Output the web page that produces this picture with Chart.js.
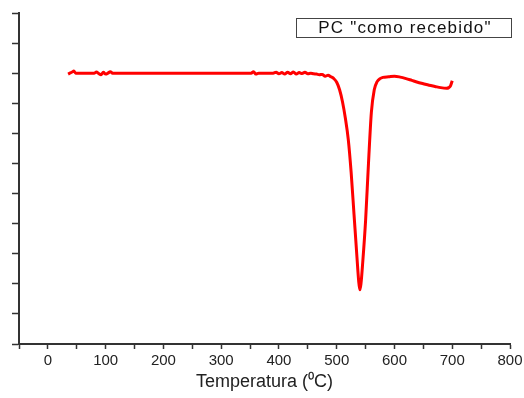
<!DOCTYPE html>
<html>
<head>
<meta charset="utf-8">
<script src="https://cdn.jsdelivr.net/npm/chart.js@4"></script>
<style>
  body { margin: 0; background: #fff; }
  canvas { display: block; }
</style>
</head>
<body>
<canvas id="dtgChart" width="524" height="398"></canvas>
<script>
// DTG curve, PC "como recebido"
var legendLabel = 'PC "como recebido"';
var xTitle = 'Temperatura (\u2070C)';

var temperature = [35, 38, 42, 45, 48, 55, 70, 80, 84, 88, 92, 96, 100, 104, 108, 112, 116, 120,
    150, 200, 250, 300, 340, 352, 356, 360, 365, 380, 390, 395, 400, 405, 410, 415, 420, 425,
    430, 435, 440, 445, 450, 455, 460, 465, 470, 475, 480, 485, 490, 495, 500, 505, 510, 515,
    520, 525, 530, 535, 538, 540, 542, 545, 550, 555, 560, 565, 570, 575, 580, 590, 600, 610,
    620, 630, 640, 650, 660, 670, 680, 690, 694, 697, 700];

var signal = [8.97, 9.0, 9.04, 9.07, 9.0, 9.0, 9.0, 9.0, 9.04, 8.99, 8.95, 9.03, 8.97, 9.0, 9.05, 9.0, 9.0, 9.0,
    9.0, 9.0, 9.0, 9.0, 9.0, 9.0, 9.05, 8.97, 9.0, 9.0, 9.0, 9.03, 8.98, 9.02, 8.97, 9.03, 8.98, 9.04,
    8.97, 9.02, 8.99, 9.03, 8.98, 9.0, 8.98, 8.97, 8.95, 8.96, 8.9, 8.93, 8.88, 8.82, 8.7, 8.45, 8.05, 7.5,
    6.8, 5.7, 4.3, 2.9, 2.1, 1.8, 2.0, 2.7, 4.1, 6.0, 7.7, 8.45, 8.72, 8.82, 8.86, 8.88, 8.9, 8.87,
    8.82, 8.76, 8.7, 8.65, 8.6, 8.56, 8.52, 8.5, 8.52, 8.58, 8.75];

var xMin = -50, xMax = 800, xStep = 50;
var yMin = 0, yMax = 11, yStep = 1;

let points = [];
temperature.forEach(function (t, i) {
    points.push({ x: t, y: signal[i] });
});

// Boxed legend label in the top right corner
var boxLegend = {
    id: 'boxLegend',
    afterDraw: function (chart) {
        let ctx = chart.ctx;
        ctx.save();
        ctx.strokeStyle = '#444';
        ctx.lineWidth = 1;
        ctx.strokeRect(296.5, 18.5, 215, 19);
        ctx.fillStyle = '#111';
        ctx.font = '17px "Liberation Sans", Arial, sans-serif';
        ctx.letterSpacing = '1.2px';
        ctx.textAlign = 'center';
        ctx.textBaseline = 'middle';
        ctx.fillText(legendLabel, 405, 28.5);
        ctx.restore();
    }
};

let ctx = document.getElementById('dtgChart').getContext('2d');
new Chart(ctx, {
    type: 'line',
    data: {
        datasets: [{
            label: legendLabel,
            data: points,
            borderColor: '#f00',
            borderWidth: 3,
            pointRadius: 0,
            fill: false,
            cubicInterpolationMode: 'monotone'
        }]
    },
    options: {
        responsive: false,
        animation: false,
        devicePixelRatio: 1,
        layout: { padding: { top: 13, right: 14, left: 0, bottom: 0 } },
        plugins: {
            legend: { display: false },
            tooltip: { enabled: false }
        },
        scales: {
            x: {
                type: 'linear',
                min: xMin,
                max: xMax,
                border: { color: '#333', width: 2 },
                grid: { drawOnChartArea: false, tickLength: 5, color: '#333', tickWidth: 1.5 },
                ticks: {
                    stepSize: xStep,
                    autoSkip: false,
                    maxRotation: 0,
                    padding: 3,
                    color: '#222',
                    font: { size: 15, family: '"Liberation Sans", Arial, sans-serif' },
                    callback: function (v) { return (v % 100 === 0) ? v : ''; }
                },
                title: {
                    display: true,
                    text: xTitle,
                    color: '#222',
                    font: { size: 18, family: '"Liberation Sans", Arial, sans-serif' },
                    padding: { top: 0, bottom: 5 }
                },
                afterFit: function (scale) {
                    scale.height = 54;
                    scale.paddingLeft = 0;
                    scale.paddingRight = 0;
                }
            },
            y: {
                min: yMin,
                max: yMax,
                border: { color: '#333', width: 2 },
                grid: { drawOnChartArea: false, tickLength: 7, color: '#333', tickWidth: 1.5 },
                ticks: {
                    stepSize: yStep,
                    callback: function () { return ''; }
                },
                afterFit: function (scale) {
                    scale.width = 19;
                    scale.paddingTop = 0;
                    scale.paddingBottom = 0;
                }
            }
        }
    },
    plugins: [boxLegend]
});
</script>
</body>
</html>
